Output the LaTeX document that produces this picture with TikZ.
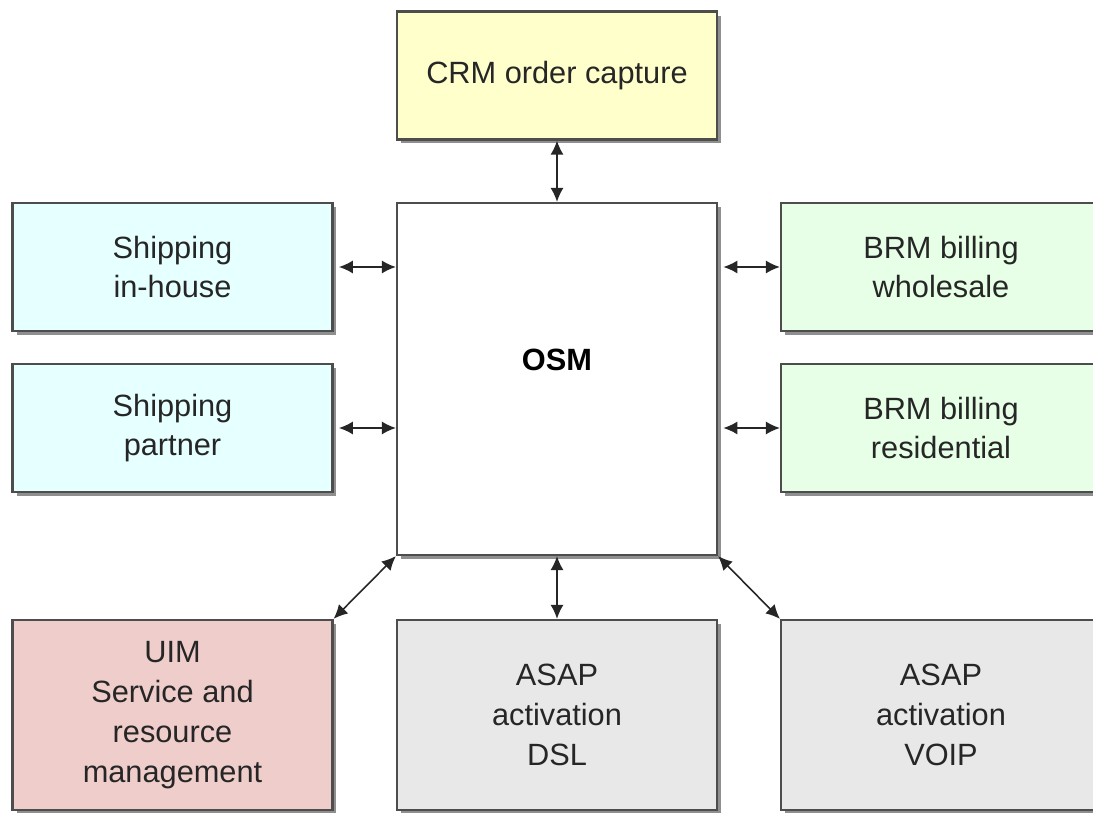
\documentclass[tikz,border=0pt]{standalone}
\usepackage{fontspec}
\setmainfont{Liberation Sans}
\usetikzlibrary{arrows.meta,shadows}

\definecolor{crmfill}{HTML}{FFFFCC}
\definecolor{shipfill}{HTML}{E6FFFF}
\definecolor{brmfill}{HTML}{E6FFE6}
\definecolor{uimfill}{HTML}{EECDCB}
\definecolor{asapfill}{HTML}{E8E8E8}
\definecolor{boxline}{HTML}{4D4D4D}

\tikzset{
	sysbox/.style={draw=boxline,line width=1.3pt,minimum width=6.4cm,minimum height=2.56cm,
		align=center,font=\fontsize{17.5}{22.7}\selectfont,text=black!85,
		drop shadow={shadow xshift=0.08cm,shadow yshift=-0.08cm,fill=black!55,opacity=0.8}},
	tallbox/.style={sysbox,minimum height=3.8cm},
	link/.style={{Latex[length=8pt,width=7.5pt]}-{Latex[length=8pt,width=7.5pt]},line width=0.9pt,draw=black!85}
}

\begin{document}
\begin{tikzpicture}[x=0.02cm,y=-0.02cm]
	\useasboundingbox (0,0) rectangle (1093,813);
	\clip (0,0) rectangle (1093,813);
	% top and centre
	\node [sysbox,fill=crmfill] (crm) at (557,75.5) {CRM order capture};
	\node [sysbox,fill=white,minimum height=7.04cm,
		label={[yshift=0.38cm,font=\fontsize{17.5}{20}\selectfont\bfseries]center:OSM}] (osm) at (557,379) {};
	% left column
	\node [sysbox,fill=shipfill] (inhouse) at (172.5,267) {Shipping\\in-house};
	\node [sysbox,fill=shipfill] (partner) at (172.5,428) {Shipping\\partner};
	% right column
	\node [sysbox,fill=brmfill] (wholesale) at (941,267) {BRM billing\\wholesale};
	\node [sysbox,fill=brmfill] (residential) at (941,428) {BRM billing\\residential};
	% bottom row
	\node [tallbox,fill=uimfill] (uim) at (172.5,715) {UIM\\Service and\\resource\\management};
	\node [tallbox,fill=asapfill] (dsl) at (557,715) {ASAP\\activation\\DSL};
	\node [tallbox,fill=asapfill] (voip) at (941,715) {ASAP\\activation\\VOIP};
	% connectors
	\draw [link] (crm.south) -- (osm.north);
	\draw [link,shorten <=3pt] (inhouse.east) -- (inhouse.east -| osm.west);
	\draw [link,shorten <=3pt] (partner.east) -- (partner.east -| osm.west);
	\draw [link,shorten <=3pt] (osm.east |- wholesale.west) -- (wholesale.west);
	\draw [link,shorten <=3pt] (osm.east |- residential.west) -- (residential.west);
	\draw [link] (osm.south west) -- (uim.north east);
	\draw [link] (osm.south) -- (dsl.north);
	\draw [link] (osm.south east) -- (voip.north west);
\end{tikzpicture}
\end{document}
